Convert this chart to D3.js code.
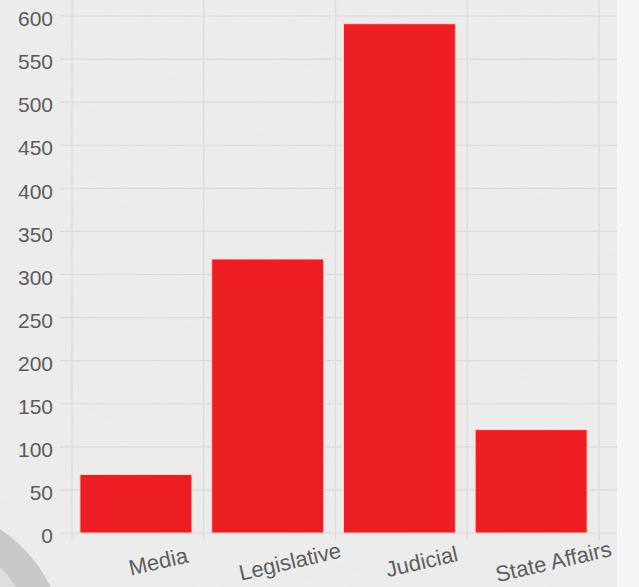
<!DOCTYPE html>
<html>
<head>
<meta charset="utf-8">
<script src="https://cdn.jsdelivr.net/npm/d3@7"></script>
<style>
  html, body { margin: 0; padding: 0; background: #f5f5f5; }
  svg { display: block; }
</style>
</head>
<body>
<svg id="chart" width="639" height="587"></svg>
<script>
const categories = ["Media", "Legislative", "Judicial", "State Affairs"];
const values = [68, 318, 591, 120];
const yTicks = [0, 50, 100, 150, 200, 250, 300, 350, 400, 450, 500, 550, 600];

const W = 639, H = 587;
const svg = d3.select("#chart");
const defs = svg.append("defs");

// paper texture
const f = defs.append("filter").attr("id", "paper").attr("x", 0).attr("y", 0).attr("width", "100%").attr("height", "100%");
f.append("feTurbulence").attr("type", "fractalNoise").attr("baseFrequency", "0.06 0.5").attr("numOctaves", 3).attr("seed", 4).attr("result", "n");
f.append("feColorMatrix").attr("in", "n").attr("type", "matrix")
  .attr("values", "0 0 0 0 0.86  0 0 0 0 0.86  0 0 0 0 0.86  0 0 0 0.55 -0.12").attr("result", "c");
f.append("feComposite").attr("in", "c").attr("in2", "SourceGraphic").attr("operator", "in");

defs.append("clipPath").attr("id", "panelClip")
  .append("rect").attr("x", 0).attr("y", 0).attr("width", 617).attr("height", H);

const panel = svg.append("g").attr("clip-path", "url(#panelClip)");
panel.append("rect").attr("width", 617).attr("height", H).attr("fill", "#ebebeb");
panel.append("rect").attr("width", 617).attr("height", H).attr("fill", "#ebebeb").attr("filter", "url(#paper)");

// bottom-left ring decoration
panel.append("circle").attr("cx", -80).attr("cy", 650).attr("r", 130)
  .attr("fill", "#dedede").attr("stroke", "#c8c8c8").attr("stroke-width", 30);

const x = d3.scaleBand().domain(categories).range([72, 599]).padding(0);
const y = d3.scaleLinear().domain([0, 600]).range([533, 16]);

// horizontal grid
panel.append("g").selectAll("line").data(yTicks).join("line")
  .attr("x1", 60).attr("x2", 617)
  .attr("y1", d => y(d)).attr("y2", d => y(d))
  .attr("stroke", "#dadada").attr("stroke-width", 1.2);

// vertical grid at band boundaries
const vb = categories.map(c => x(c)).concat([x(categories[categories.length - 1]) + x.bandwidth()]);
panel.append("g").selectAll("line").data(vb).join("line")
  .attr("x1", d => d).attr("x2", d => d)
  .attr("y1", 0).attr("y2", 540)
  .attr("stroke", "#dbdbdb").attr("stroke-width", 1.2);

// bars
const barW = x.bandwidth() * 0.85;
const barOff = x.bandwidth() * 0.06;
panel.append("g").selectAll("rect").data(values).join("rect")
  .attr("x", (d, i) => x(categories[i]) + barOff)
  .attr("y", d => y(d))
  .attr("width", barW)
  .attr("height", d => y(0) - y(d))
  .attr("fill", "#ed1d24")
  .attr("stroke", "#f6d9c8").attr("stroke-width", 1);

// y axis labels
const yAxis = d3.axisLeft(y).tickValues(yTicks).tickSize(0).tickPadding(0);
const ya = panel.append("g").attr("transform", "translate(53,3)").call(yAxis);
ya.select(".domain").remove();
ya.selectAll("text")
  .attr("font-family", "Liberation Sans, Arial, Helvetica, sans-serif")
  .attr("font-size", 21).attr("fill", "#5b5b5b");

// x labels (rotated)
panel.append("g").selectAll("text").data(categories).join("text")
  .attr("transform", d => `translate(${x(d) + x.bandwidth() / 2 + 22},569) rotate(-13)`)
  .attr("text-anchor", "middle")
  .attr("font-family", "Liberation Sans, Arial, Helvetica, sans-serif")
  .attr("font-size", 22).attr("fill", "#5e5e5e")
  .text(d => d);
</script>
</body>
</html>
